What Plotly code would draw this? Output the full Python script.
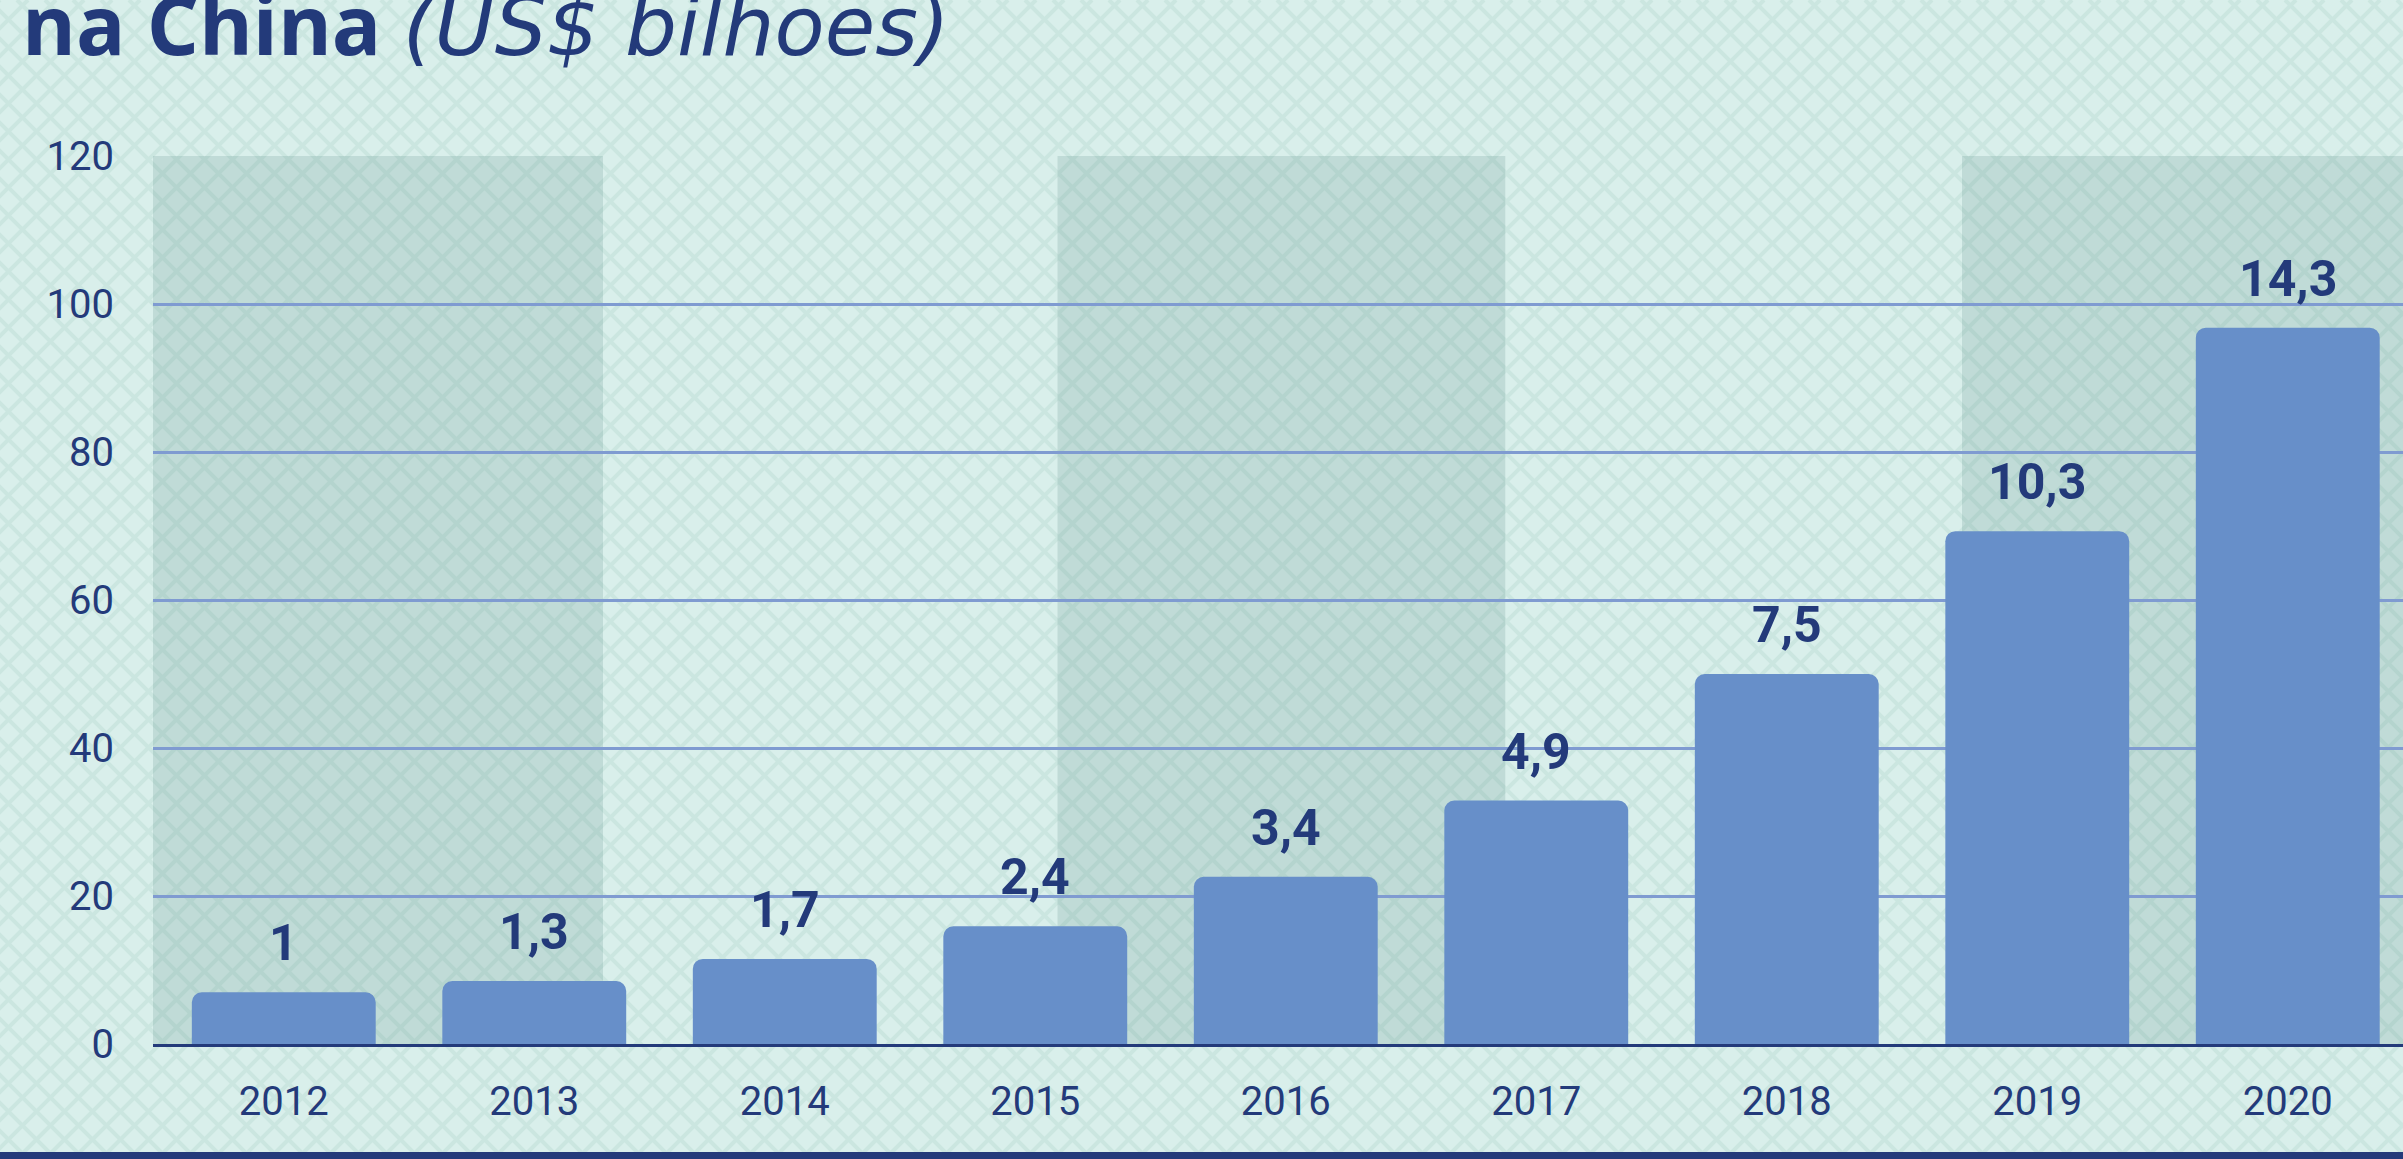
import plotly.graph_objects as go

# ---- data ----
years = ["2012", "2013", "2014", "2015", "2016", "2017", "2018", "2019", "2020"]
bar_heights = [7.0, 8.5, 11.5, 15.9, 22.6, 32.9, 50.0, 69.3, 96.8]
value_labels = ["1", "1,3", "1,7", "2,4", "3,4", "4,9", "7,5", "10,3", "14,3"]
y_ticks = [0, 20, 40, 60, 80, 100, 120]
title_bold = "na China"
title_italic = "(US$ bilhoes)"

# ---- style ----
W, H = 2403, 1159
ML, MR, MT, MB = 153, 0, 156, 115
NAVY = "#233a7a"
BAR = "#678fc9"
GRID = "#7f9bd1"
BG = "#d9efeb"
LATTICE = "#cbe6e0"
FONT = "Roboto"

PW = W - ML - MR
PH = H - MT - MB


def px(x):
    return (x - ML) / PW


def py(y):
    return (H - MB - y) / PH


fig = go.Figure()
fig.add_trace(go.Bar(
    x=years, y=bar_heights, marker=dict(color=BAR, line=dict(width=0)),
    hoverinfo="skip", showlegend=False,
))

shapes = []
# background lattice (decorative)
step = 28
c = -H
while c < W + H:
    shapes.append(dict(type="line", xref="paper", yref="paper", layer="below",
                       x0=px(c), y0=py(0), x1=px(c + H), y1=py(H),
                       line=dict(color=LATTICE, width=4)))
    shapes.append(dict(type="line", xref="paper", yref="paper", layer="below",
                       x0=px(c + H), y0=py(0), x1=px(c), y1=py(H),
                       line=dict(color=LATTICE, width=4)))
    c += step

# shaded vertical bands (decorative)
for x0, x1 in [(0.0, 0.2), (0.402, 0.601), (0.804, 1.0)]:
    shapes.append(dict(type="rect", xref="paper", yref="paper", layer="below",
                       x0=x0, x1=x1, y0=0, y1=1,
                       fillcolor="rgba(60,120,110,0.16)", line=dict(width=0)))

# bottom dark strip
shapes.append(dict(type="rect", xref="paper", yref="paper", layer="above",
                   x0=px(0), x1=px(W), y0=py(H), y1=py(1152),
                   fillcolor=NAVY, line=dict(width=0)))

annotations = []
for i, (h, lab) in enumerate(zip(bar_heights, value_labels)):
    annotations.append(dict(x=i, y=h, xref="x", yref="y", text=lab,
                            showarrow=False, yanchor="bottom", yshift=18,
                            font=dict(family=FONT, size=50, color=NAVY, weight="bold")))

annotations.append(dict(
    xref="paper", yref="paper", x=px(20), y=py(81), xanchor="left", yanchor="bottom",
    text=(f"<b>{title_bold}</b> "
          f"<span style=\"font-family:'DejaVu Sans'\"><i>{title_italic}</i></span>"),
    showarrow=False,
    font=dict(family="Open Sans", size=82, color=NAVY)))

fig.update_layout(
    width=W, height=H,
    margin=dict(l=ML, r=MR, t=MT, b=MB, pad=0),
    paper_bgcolor=BG, plot_bgcolor="rgba(0,0,0,0)",
    bargap=0.266, barcornerradius=10,
    shapes=shapes, annotations=annotations,
    showlegend=False,
    font=dict(family=FONT, color=NAVY),
)
fig.update_xaxes(
    type="category", range=[-0.522, 8.46], showgrid=False, zeroline=False,
    showline=True, linecolor=NAVY, linewidth=3,
    ticks="", tickfont=dict(family=FONT, size=40, color=NAVY),
    ticklabelstandoff=20, fixedrange=True,
)
fig.update_yaxes(
    range=[0, 120], tickvals=y_ticks, showgrid=True, gridcolor=GRID, gridwidth=3,
    zeroline=False, showline=False, ticks="",
    tickfont=dict(family=FONT, size=40, color=NAVY),
    ticklabelstandoff=38, fixedrange=True,
)

fig.write_html("out.html", config={"displayModeBar": False},
               post_script="document.body.style.margin='0';document.body.style.overflow='hidden';")
